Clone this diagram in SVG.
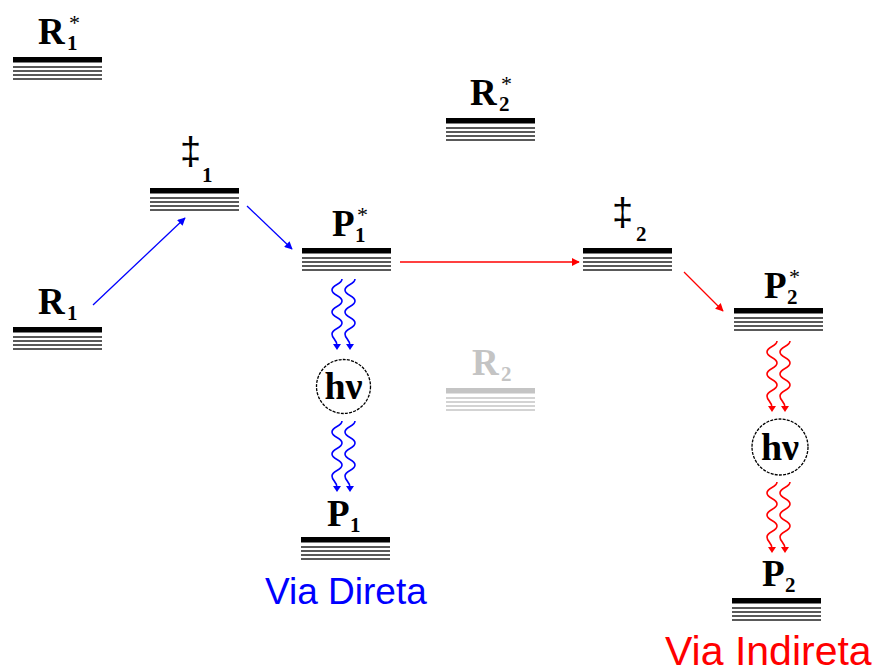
<svg xmlns="http://www.w3.org/2000/svg" xmlns:xlink="http://www.w3.org/1999/xlink" width="880" height="669" viewBox="0 0 880 669">
<style>
.main{font-family:"Liberation Serif",serif;font-weight:bold;font-size:37px;fill:#000}
.sub{font-family:"Liberation Serif",serif;font-weight:bold;font-size:21px;fill:#000}
.star{font-family:"Liberation Serif",serif;font-size:22px;fill:#000}
.dag{font-family:"Liberation Sans",Arial,sans-serif;font-size:38px;fill:#000}
.thin{stroke:#222;stroke-width:1.6}
.hv{font-family:"Liberation Serif",serif;font-weight:bold;font-size:38px;fill:#000;text-anchor:middle}
.circ{fill:#fff;stroke:#000;stroke-width:1.3;stroke-dasharray:3 1.2}
.via{font-family:"Liberation Sans",Arial,sans-serif;font-size:37px}
.wb{fill:none;stroke:#0000ff;stroke-width:1.6}
.wr{fill:none;stroke:#ff0000;stroke-width:1.6}
.g{fill:#c4c4c4}
</style>
<defs>
<g id="lvl">
<rect x="0" y="0" width="89" height="5.5" fill="#000"/>
<line class="thin" x1="0" y1="10" x2="89" y2="10"/>
<line class="thin" x1="0" y1="14" x2="89" y2="14"/>
<line class="thin" x1="0" y1="18" x2="89" y2="18"/>
<line class="thin" x1="0" y1="22" x2="89" y2="22"/>
</g>
<g id="lvlg">
<rect x="0" y="0" width="89" height="5.5" fill="#c4c4c4"/>
<g stroke="#c4c4c4" stroke-width="1.6">
<line x1="0" y1="10" x2="89" y2="10"/>
<line x1="0" y1="14" x2="89" y2="14"/>
<line x1="0" y1="18" x2="89" y2="18"/>
<line x1="0" y1="22" x2="89" y2="22"/>
</g>
</g>
<path id="wave" d="M5,0 C5,5.5 -5,5.5 -5,11 C-5,16.5 5,16.5 5,22 C5,27.5 -5,27.5 -5,33 C-5,38.5 5,38.5 5,44 C5,49.5 -5,49.5 -5,55 C-5,60 0,60 0,67"/>
<g id="wB"><use xlink:href="#wave" class="wb"/><polygon points="-4,65 4,65 0,71" fill="#0000ff"/></g>
<g id="wR"><use xlink:href="#wave" class="wr"/><polygon points="-4,65 4,65 0,71" fill="#ff0000"/></g>
<marker id="aB" viewBox="0 0 10 10" refX="9" refY="5" markerWidth="8" markerHeight="8" markerUnits="userSpaceOnUse" orient="auto"><path d="M0,0 L10,5 L0,10 z" fill="#0000ff"/></marker>
<marker id="aR" viewBox="0 0 10 10" refX="9" refY="5" markerWidth="8" markerHeight="8" markerUnits="userSpaceOnUse" orient="auto"><path d="M0,0 L10,5 L0,10 z" fill="#ff0000"/></marker>
</defs>
<rect width="880" height="669" fill="#fff"/>

<g id="connectors">
<line x1="93" y1="305" x2="185" y2="218" stroke="#0000ff" stroke-width="1.3" marker-end="url(#aB)"/>
<line x1="247" y1="206" x2="292" y2="249" stroke="#0000ff" stroke-width="1.3" marker-end="url(#aB)"/>
<line x1="400" y1="262" x2="579" y2="262" stroke="#ff0000" stroke-width="1.3" marker-end="url(#aR)"/>
<line x1="684" y1="272" x2="723" y2="311" stroke="#ff0000" stroke-width="1.3" marker-end="url(#aR)"/>
<use xlink:href="#wB" x="337" y="279"/>
<use xlink:href="#wB" x="350" y="279"/>
<use xlink:href="#wB" x="337" y="421"/>
<use xlink:href="#wB" x="350" y="421"/>
<use xlink:href="#wR" x="772" y="341"/>
<use xlink:href="#wR" x="785" y="341"/>
<use xlink:href="#wR" x="772" y="482"/>
<use xlink:href="#wR" x="785" y="482"/>
</g>

<g id="R1star">
<use xlink:href="#lvl" x="13" y="57"/>
<text class="main" x="38" y="44">R</text><text class="sub" x="67" y="50">1</text><text class="star" x="69" y="30">*</text>
</g>
<g id="R1">
<use xlink:href="#lvl" x="13" y="327"/>
<text class="main" x="38" y="314">R</text><text class="sub" x="67" y="320">1</text>
</g>
<g id="TS1">
<use xlink:href="#lvl" x="150" y="188"/>
<text class="dag" x="180" y="164">‡</text><text class="sub" x="202" y="182">1</text>
</g>
<g id="P1star">
<use xlink:href="#lvl" x="302" y="248"/>
<text class="main" x="332" y="236">P</text><text class="sub" x="355" y="242">1</text><text class="star" x="357" y="222">*</text>
</g>
<g id="hv1">
<circle class="circ" cx="343.5" cy="386.5" r="27"/>
<text class="hv" x="343.5" y="399">hν</text>
</g>
<g id="P1">
<use xlink:href="#lvl" x="301" y="537"/>
<text class="main" x="327" y="526">P</text><text class="sub" x="350" y="532">1</text>
</g>
<g id="R2star">
<use xlink:href="#lvl" x="446" y="118"/>
<text class="main" x="470" y="105">R</text><text class="sub" x="499" y="111">2</text><text class="star" x="501" y="91">*</text>
</g>
<g id="R2">
<use xlink:href="#lvlg" x="446" y="388"/>
<text class="main g" x="472" y="375" style="fill:#c4c4c4">R</text><text class="sub g" x="501" y="381" style="fill:#c4c4c4">2</text>
</g>
<g id="TS2">
<use xlink:href="#lvl" x="583" y="248"/>
<text class="dag" x="612" y="225">‡</text><text class="sub" x="636" y="241">2</text>
</g>
<g id="P2star">
<use xlink:href="#lvl" x="734" y="308"/>
<text class="main" x="764" y="298">P</text><text class="sub" x="787" y="304">2</text><text class="star" x="789" y="284">*</text>
</g>
<g id="hv2">
<circle class="circ" cx="780" cy="447" r="28"/>
<text class="hv" x="780" y="460">hν</text>
</g>
<g id="P2">
<use xlink:href="#lvl" x="732" y="598"/>
<text class="main" x="762" y="586">P</text><text class="sub" x="785" y="592">2</text>
</g>
<text class="via" x="265" y="604" fill="#0000ff">Via Direta</text>
<text class="via" x="665" y="665" fill="#ff0000" style="font-size:41px">Via Indireta</text>
</svg>
